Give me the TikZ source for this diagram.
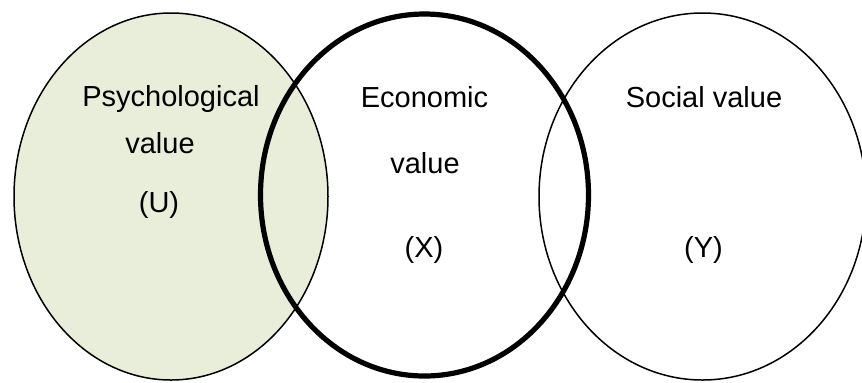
\documentclass[tikz,border=0pt]{standalone}
\usepackage{fontspec}
\setmainfont{Liberation Sans}
\usetikzlibrary{shapes.geometric}
\definecolor{psyfill}{RGB}{233,238,218}

\begin{document}
\begin{tikzpicture}[x=0.5pt, y=-0.5pt, inner sep=0pt,
    set/.style = {draw, ellipse, line width=0.75pt},
    lbl/.style = {anchor=base, font=\fontsize{14.5}{17}\selectfont}]
            \useasboundingbox (0,0) rectangle (862,382);
            \node[set, fill=psyfill, minimum width=157pt, minimum height=183.5pt] (1s) at (171,196.5) {};
            \node[set, line width=2.6pt, minimum width=164pt, minimum height=181pt] (2s) at (424.5,195) {};
            \node[set, minimum width=163.5pt, minimum height=183.5pt] (3s) at (702.5,196.5) {};

            \node[lbl] (1a) at (171,106) {Psychological};
            \node[lbl] (1b) at (160,153) {value};
            \node[lbl] (1c) at (159,212) {(U)};
            \node[lbl] (2a) at (424.5,107) {Economic};
            \node[lbl] (2b) at (425,173) {value};
            \node[lbl] (2c) at (424,257) {(X)};
            \node[lbl] (3a) at (704,107) {Social value};
            \node[lbl] (3c) at (703.5,257) {(Y)};
        \end{tikzpicture}
\end{document}
